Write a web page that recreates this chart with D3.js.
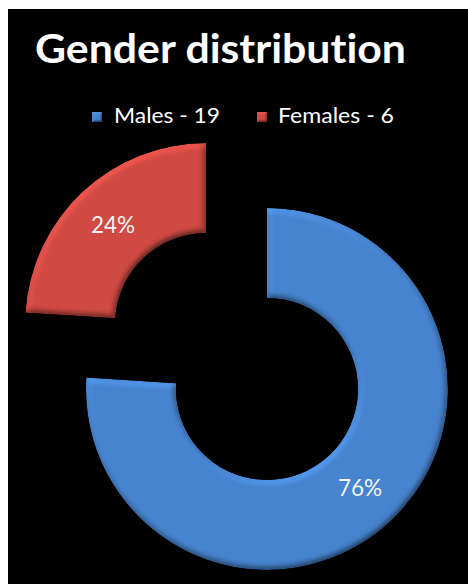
<!DOCTYPE html>
<html>
<head>
<meta charset="utf-8">
<script src="https://cdn.jsdelivr.net/npm/d3@7"></script>
<style>
  html, body { margin: 0; padding: 0; background: #ffffff; }
  svg { display: block; }
  text { font-variant-ligatures: none; font-feature-settings: "liga" 0, "clig" 0; }
</style>
</head>
<body>
<script>
// ---- data ----
const categories = ["Males", "Females"];
const values = [19, 6];
const legendLabels = ["Males - 19", "Females - 6"];
const title = "Gender distribution";

// ---- layout / style ----
const W = 468, H = 584;
const colors = ["#4784cf", "#d04a43"];
const outerR = 181, innerR = 91;
const base = { x: 236.5, y: 356.5 };
const explode = 44.5;
const font = "Lato, 'Open Sans', 'Noto Sans', sans-serif";
const elev = 62;

const svg = d3.select("body").append("svg")
  .attr("width", W).attr("height", H);

const defs = svg.append("defs");
function bevel(id, sd, scale) {
  const f = defs.append("filter").attr("id", id)
    .attr("x", "-10%").attr("y", "-10%").attr("width", "120%").attr("height", "120%")
    .attr("color-interpolation-filters", "sRGB");
  f.append("feGaussianBlur").attr("in", "SourceAlpha").attr("stdDeviation", sd).attr("result", "blur");
  const dl = f.append("feDiffuseLighting").attr("in", "blur").attr("surfaceScale", scale)
    .attr("diffuseConstant", 1).attr("lighting-color", "#ffffff").attr("result", "light");
  dl.append("feDistantLight").attr("azimuth", 240).attr("elevation", elev);
  f.append("feComposite").attr("in", "SourceGraphic").attr("in2", "light")
    .attr("operator", "arithmetic").attr("k1", 1 / Math.sin(elev * Math.PI / 180))
    .attr("k2", 0).attr("k3", 0).attr("k4", 0).attr("result", "lit");
  f.append("feComposite").attr("in", "lit").attr("in2", "SourceAlpha").attr("operator", "in");
}
bevel("bevel", 3, 2.6);
bevel("bevelSmall", 1, 1.2);

// background
svg.append("rect").attr("x", 8).attr("y", 9).attr("width", W - 8).attr("height", H - 9)
  .attr("fill", "#000000");

// title
svg.append("text")
  .attr("x", 35).attr("y", 63)
  .attr("font-family", font).attr("font-weight", 700).attr("font-size", 40)
  .attr("fill", "#ffffff")
  .attr("textLength", 371).attr("lengthAdjust", "spacingAndGlyphs")
  .text(title);

// legend
const legendX = [92, 257];
const legendTextX = [114, 278];
const legendTextW = [106, 116];
const lg = svg.append("g");
categories.forEach((c, i) => {
  lg.append("rect")
    .attr("x", legendX[i]).attr("y", 112).attr("width", 10).attr("height", 10)
    .attr("fill", colors[i])
    .attr("filter", "url(#bevelSmall)");
  lg.append("text")
    .attr("x", legendTextX[i]).attr("y", 123)
    .attr("font-family", font).attr("font-size", 21)
    .attr("fill", "#ffffff")
    .attr("textLength", legendTextW[i]).attr("lengthAdjust", "spacingAndGlyphs")
    .text(legendLabels[i]);
});

// donut
const pie = d3.pie().sort(null).value(d => d)
  .startAngle(0).endAngle(2 * Math.PI);
const arcs = pie(values);
const arc = d3.arc().innerRadius(innerR).outerRadius(outerR);
const total = d3.sum(values);

const g = svg.append("g").attr("transform", `translate(${base.x},${base.y})`);
const slices = g.selectAll("g.slice").data(arcs).join("g")
  .attr("class", "slice")
  .attr("transform", d => {
    const a = (d.startAngle + d.endAngle) / 2;
    return `translate(${explode * Math.sin(a)},${-explode * Math.cos(a)})`;
  });

slices.append("path")
  .attr("d", arc)
  .attr("fill", (d, i) => colors[i])
  .attr("filter", "url(#bevel)");

slices.append("text")
  .attr("transform", d => {
    const c = arc.centroid(d);
    return `translate(${c[0]},${c[1] + 8})`;
  })
  .attr("text-anchor", "middle")
  .attr("font-family", font).attr("font-size", 22.5)
  .attr("fill", "#f2f2f2")
  .text(d => Math.round(d.value / total * 100) + "%");
</script>
</body>
</html>
